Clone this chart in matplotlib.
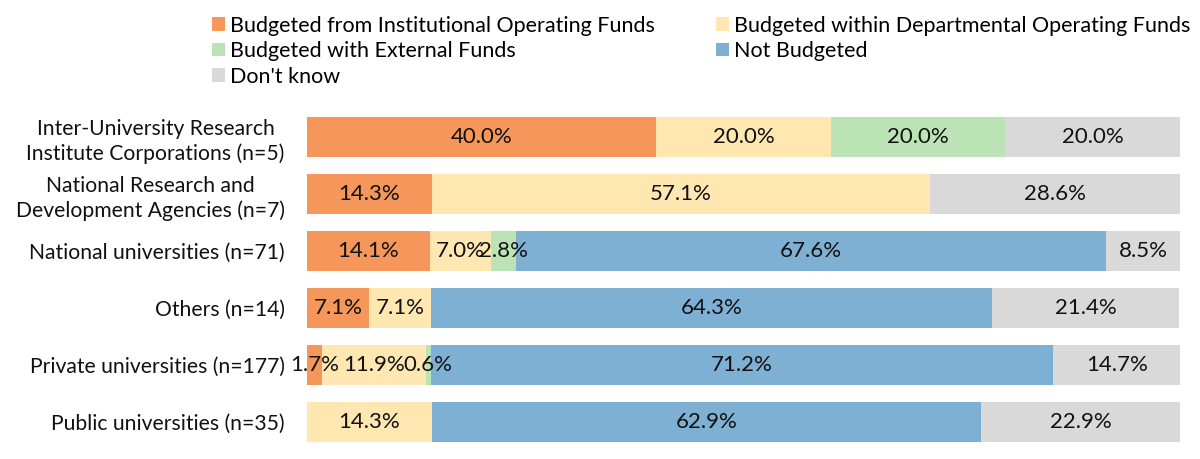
import matplotlib
matplotlib.use("Agg")
import matplotlib.pyplot as plt
import numpy as np

plt.rcParams['font.family'] = ['Lato', 'DejaVu Sans']

categories = [
    "Inter-University Research\nInstitute Corporations (n=5)",
    "National Research and\nDevelopment Agencies (n=7)",
    "National universities (n=71)",
    "Others (n=14)",
    "Private universities (n=177)",
    "Public universities (n=35)",
]
series_names = [
    "Budgeted from Institutional Operating Funds",
    "Budgeted within Departmental Operating Funds",
    "Budgeted with External Funds",
    "Not Budgeted",
    "Don't know",
]
inst = [40.0, 14.3, 14.1, 7.1, 1.7, 0.0]
dept = [20.0, 57.1, 7.0, 7.1, 11.9, 14.3]
ext = [20.0, 0.0, 2.8, 0.0, 0.6, 0.0]
notb = [0.0, 0.0, 67.6, 64.3, 71.2, 62.9]
dk = [20.0, 28.6, 8.5, 21.4, 14.7, 22.9]
series = [inst, dept, ext, notb, dk]
colors = ["#F5965A", "#FEE7B1", "#BCE3B6", "#7EB0D3", "#D9D9D9"]

fig = plt.figure(figsize=(12, 4.59), dpi=100)
ax = fig.add_axes([307/1200, 8.5/459, (1180-307)/1200, 342/459])

y = np.arange(len(categories))
left = np.zeros(len(categories))
handles = []
for name, vals, c in zip(series_names, series, colors):
    vals = np.array(vals)
    b = ax.barh(y, vals, left=left, color=c, height=0.7, label=name)
    handles.append(b)
    for yi, l, v in zip(y, left, vals):
        if v > 0:
            ax.text(l + v/2, yi, f"{v:.1f}%", ha='center', va='center', fontsize=16, color='#111111')
    left = left + vals

ax.set_xlim(0, 100)
ax.set_ylim(len(categories) - 0.5, -0.5)
ax.set_yticks(y)
ax.set_yticklabels(categories, fontsize=15.2, color='#111111', multialignment='center', linespacing=1.3)
ax.tick_params(axis='y', length=0, pad=16)
ax.set_xticks([])
for s in ax.spines.values():
    s.set_visible(False)

order = [0, 2, 4, 1, 3]
fig.legend([handles[i] for i in order], [series_names[i] for i in order],
           ncol=2, loc='upper left', bbox_to_anchor=(203/1200, 1 - 7/459),
           frameon=False, fontsize=15.5, handlelength=0.6, handleheight=0.6,
           handletextpad=0.25, columnspacing=2.85, labelspacing=0.26, borderaxespad=0)

fig.savefig("out.png", dpi=100)
